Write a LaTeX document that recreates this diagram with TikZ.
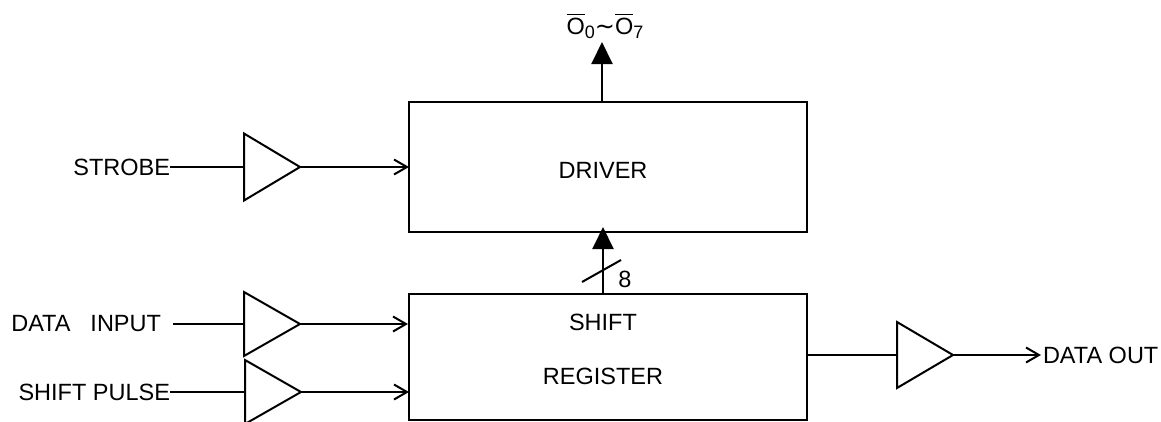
\documentclass[tikz,border=0pt]{standalone}
\usepackage{fontspec}
\setmainfont{Liberation Sans}
\newfontfamily\symfont{DejaVu Sans}
\usetikzlibrary{shapes.geometric,arrows.meta,calc}
\newcommand{\barO}{\vbox{\hrule height 1.4pt \kern 2.4pt \hbox{O}}}
\newcommand{\subd}[1]{\raisebox{-4pt}{\fontsize{18}{18}\selectfont #1}}
\tikzset{
  x=1pt,y=-1pt,
  every node/.style={font=\fontsize{23.5}{26}\selectfont,inner sep=0pt,outer sep=0pt},
  block/.style={draw,rectangle,minimum width=398pt,anchor=center},
  buf/.style={draw,isosceles triangle,isosceles triangle apex angle=60,isosceles triangle stretches,
    minimum width=#1,minimum height=56pt,anchor=apex,line join=miter},
  buf/.default=64pt,
  sig/.style={-{Straight Barb[length=13pt,width=15pt,line width=2pt]}},
  bus/.style={-{Triangle[length=22pt,width=21pt]}},
  lab/.style={anchor=east}
}
\begin{document}
\begin{tikzpicture}[line width=2pt]
\useasboundingbox (0,0) rectangle (1161,421);
\clip (0,0) rectangle (1161,421);
\fill[white] (0,0) rectangle (1161,421);
% blocks
\node[block,minimum height=130pt] (drv) at (608,167) {};
\node (drvt) at (603,170) {DRIVER};
\node[block,minimum height=126pt] (reg) at (608,357) {};
\node (regt1) at (603,322) {SHIFT};
\node (regt2) at (603,376) {REGISTER};
% buffers
\node[buf=67pt] (b1) at (300,167) {};
\node[buf] (b2) at (300,324) {};
\node[buf] (b3) at (301,392) {};
\node[buf=66pt] (b4) at (953,355) {};
% labels
\node[lab] (l1) at (170,167) {STROBE};
\node[lab] (l2) at (161,324) {DATA\hspace{20pt}INPUT};
\node[lab] (l3) at (170,392) {SHIFT PULSE};
\node[anchor=west] (l4) at (1043,355) {DATA OUT};
\node[anchor=base] (top) at (605,34) {\barO\subd{0}{\symfont\fontsize{24}{24}\selectfont ∼}\barO\subd{7}};
\node (eight) at (625,279) {8};
% inputs
\draw (l1.east) -- (l1.east -| b1.left corner);
\draw ($(l2.east)+(12,0)$) -- (l2.east -| b2.left corner);
\draw (l3.east) -- (l3.east -| b3.left corner);
\draw[sig] (b1.apex) -- (b1.apex -| drv.west);
\draw[sig] (b2.apex) -- ($(b2.apex -| reg.west)+(-1,0)$);
\draw[sig] (b3.apex) -- (b3.apex -| reg.west);
% output
\draw (reg.east |- b4.apex) -- (b4.apex -| b4.left corner);
\draw[sig] (b4.apex) -- ($(l4.west)+(-2,0)$);
% buses
\coordinate (dt) at ($(drv.north)+(-6,0)$);
\coordinate (tt) at (602,42);
\draw[bus] (dt) -- (dt |- tt);
\coordinate (rt) at ($(reg.north)+(-5,0)$);
\coordinate (ds) at ($(drv.south)+(-5,-5)$);
\draw[bus] (rt) -- (ds);
\coordinate (s1) at (582,282);
\coordinate (s2) at (621,260);
\draw (s1) -- (s2);
\end{tikzpicture}
\end{document}
